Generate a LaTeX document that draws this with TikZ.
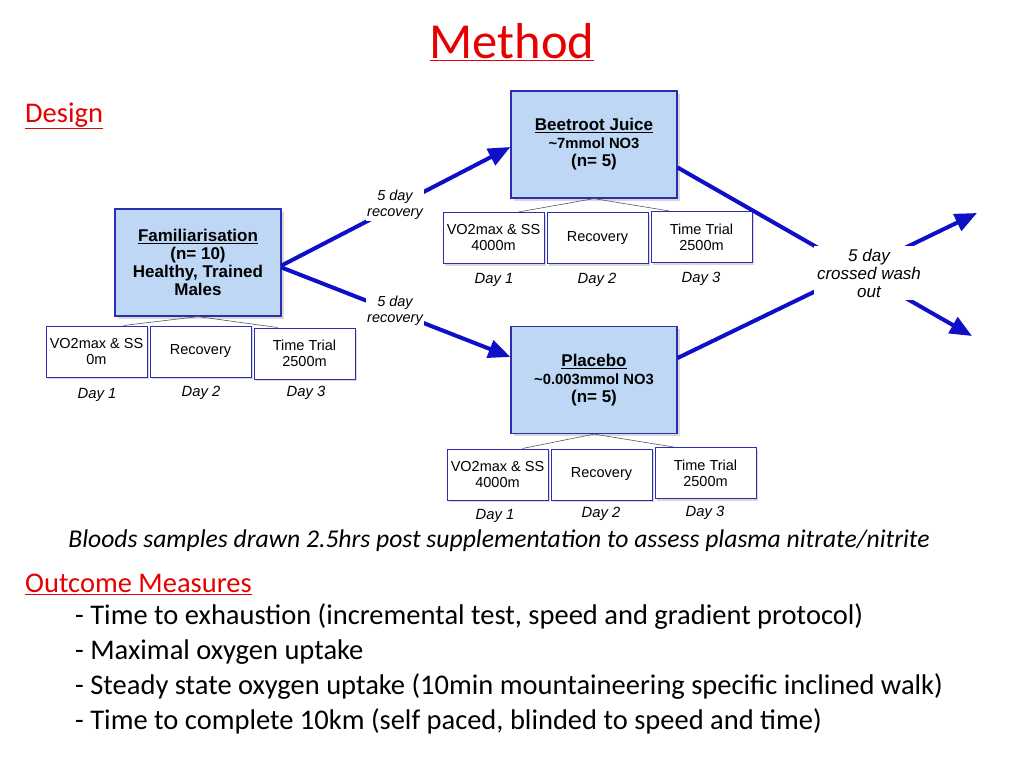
\documentclass[tikz,border=0pt]{standalone}
\usepackage{fontspec}
\setmainfont{Liberation Sans}
\newfontfamily\calibri{Carlito}
\usetikzlibrary{arrows.meta, positioning, shadows}

\definecolor{boxfill}{RGB}{189,215,245}
\definecolor{boxline}{RGB}{45,45,175}
\definecolor{arrowblue}{RGB}{15,15,200}
\definecolor{titlered}{RGB}{230,0,0}

\tikzset{
  group/.style={draw=boxline, line width=1.2pt, fill=boxfill, minimum width=166pt, minimum height=107pt,
    align=center, font=\bfseries\fontsize{17}{18}\selectfont,
    drop shadow={shadow xshift=2.5pt, shadow yshift=-2.5pt, opacity=0.3}},
  daybox/.style={draw=boxline, line width=1pt, fill=white, minimum width=101pt, minimum height=51pt,
    align=center, font=\fontsize{14.5}{16}\selectfont,
    drop shadow={shadow xshift=2pt, shadow yshift=-2pt, opacity=0.3}},
  daylabel/.style={font=\itshape\fontsize{14.8}{16}\selectfont},
  gap/.style={fill=white, align=center, font=\itshape\fontsize{14.5}{16}\selectfont, inner sep=1pt},
  flow/.style={draw=arrowblue, line width=4pt, -{Triangle[length=22pt, width=18pt]}},
  split/.style={draw=black!65, line width=0.6pt},
  heading/.style={text=titlered, anchor=west, inner sep=0pt, font=\calibri\fontsize{28.5}{32}\selectfont},
  point/.style={anchor=west, inner sep=0pt, font=\calibri\fontsize{28.5}{32}\selectfont}
}

\begin{document}
\begin{tikzpicture}[x=1pt, y=-1pt]
    \useasboundingbox[fill=white] (0,0) rectangle (1024,768);

    % Titles
    \node[text=titlered, font=\calibri\fontsize{50.5}{56}\selectfont] (title) at (512,42) {\underline{Method}};
    \node[heading] (design) at (25,116) {\underline{Design}};

    % Familiarisation arm
    \node[group] (fam) at (198,262.5) {\underline{Familiarisation}\\(n= 10)\\Healthy, Trained\\Males};
    \node[daybox] (f1) at (96.5,351.5) {VO2max \& SS\\0m};
    \node[daybox] (f2) at (200.5,351.5) {Recovery};
    \node[daybox] (f3) at (304.5,353.5) {Time Trial\\2500m};
    \node[daylabel] (fd1) at (97,395) {Day 1};
    \node[daylabel] (fd2) at (201,393) {Day 2};
    \node[daylabel] (fd3) at (306,393) {Day 3};

    % Beetroot arm
    \node[group] (beet) at (594,144.5) {\underline{Beetroot Juice}\\{\fontsize{14.8}{16}\selectfont \char`\~7mmol NO3}\\(n= 5)};
    \node[daybox] (b1) at (493.5,238) {VO2max \& SS\\4000m};
    \node[daybox] (b2) at (597.5,238) {Recovery};
    \node[daybox] (b3) at (701.5,237) {Time Trial\\2500m};
    \node[daylabel] (bd1) at (494,280) {Day 1};
    \node[daylabel] (bd2) at (597,280) {Day 2};
    \node[daylabel] (bd3) at (701,279) {Day 3};

    % Placebo arm
    \node[group] (plac) at (594,380) {\underline{Placebo}\\{\fontsize{14.8}{16}\selectfont \char`\~0.003mmol NO3}\\(n= 5)};
    \node[daybox] (p1) at (497.5,474.5) {VO2max \& SS\\4000m};
    \node[daybox] (p2) at (601.5,474.5) {Recovery};
    \node[daybox] (p3) at (705.5,473) {Time Trial\\2500m};
    \node[daylabel] (pd1) at (495,516) {Day 1};
    \node[daylabel] (pd2) at (601,514) {Day 2};
    \node[daylabel] (pd3) at (705,513) {Day 3};

    % Thin links to the days
    \draw[split] (fam.south) -- ([xshift=-24pt]f1.north east);
    \draw[split] (fam.south) -- ([xshift=24pt]f3.north west);
    \draw[split] (beet.south) -- ([xshift=-26pt]b1.north east);
    \draw[split] (beet.south) -- ([xshift=19pt]b3.north west);
    \draw[split] (plac.south) -- ([xshift=-26pt]p1.north east);
    \draw[split] (plac.south) -- ([xshift=19pt]p3.north west);

    % Recovery arrows
    \draw[flow] ([yshift=-3pt]fam.east) -- ([yshift=-2.5pt]beet.west);
    \draw[flow] ([yshift=-5pt]fam.east) -- ([yshift=23pt]plac.west);
    \node[gap] (rec1) at (395,205) {5 day\\recovery};
    \node[gap] (rec2) at (395,311) {5 day\\recovery};

    % Cross-over
    \coordinate (outdown) at (972,336);
    \coordinate (outup) at (977,213);
    \draw[flow] ([yshift=-23pt]beet.east) -- (outdown);
    \draw[flow] ([yshift=22pt]plac.east) -- (outup);
    \node[gap, font=\itshape\fontsize{17}{18}\selectfont, inner sep=3pt] (wash) at (869,273) {5 day\\crossed wash\\out};

    % Caption and outcomes
    \node[font=\calibri\itshape\fontsize{25.6}{28}\selectfont] (blood) at (499,541)
      {Bloods samples drawn 2.5hrs post supplementation to assess plasma nitrate/nitrite};
    \node[heading] (outcome) at (25,584) {\underline{Outcome Measures}};
    \node[point] (m1) at (75,617) {- Time to exhaustion (incremental test, speed and gradient protocol)};
    \node[point] (m2) at (75,652) {- Maximal oxygen uptake};
    \node[point] (m3) at (75,687) {- Steady state oxygen uptake (10min mountaineering specific inclined walk)};
    \node[point] (m4) at (75,721) {- Time to complete 10km (self paced, blinded to speed and time)};
\end{tikzpicture}
\end{document}
